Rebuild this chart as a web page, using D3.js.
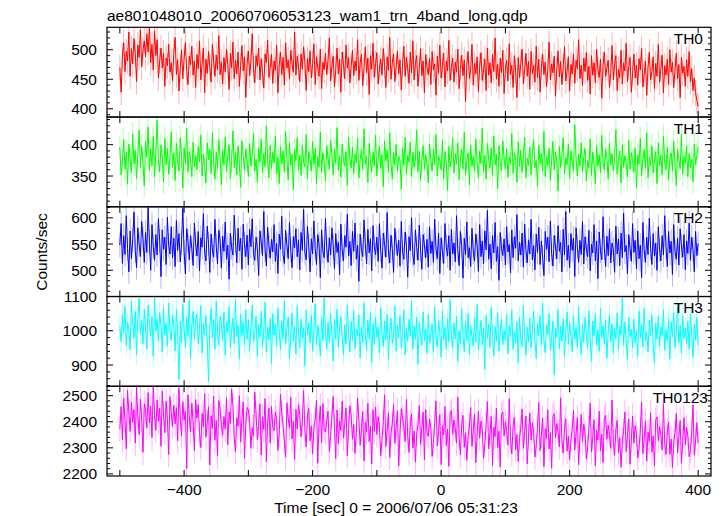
<!DOCTYPE html>
<html><head><meta charset="utf-8">
<script src="https://cdn.jsdelivr.net/npm/d3@7"></script>
<style>
html,body{margin:0;padding:0;background:#fff;}
svg text{font-family:"Liberation Sans",Arial,Helvetica,sans-serif;fill:#000;}
</style></head>
<body><svg id="c" width="723" height="516"></svg>
<script>
const title = "ae801048010_20060706053123_wam1_trn_4band_long.qdp";
const xLabel = "Time [sec] 0 = 2006/07/06 05:31:23";
const yLabel = "Counts/sec";
const tStart = -500, binSize = 2;
const seriesNames = ["TH0","TH1","TH2","TH3","TH0123"];
const seriesColors = ["#ff0000","#00ff00","#0000ff","#00ffff","#ff00ff"];
const seriesErrors = [22, 19, 23, 31, 49];
const yDomains = [[386,538],[301,444],[450,621],[838,1100],[2192,2536]];
const yMajorTicks = [[400,450,500],[350,400],[500,550,600],[900,1000,1100],[2200,2300,2400,2500]];
const yMinorSteps = [10,10,10,20,20];
const xDomain = [-520,420];
const xTicks = [-400,-200,0,200,400];
const xMinorTicks = [-500,-400,-300,-200,-100,0,100,200,300,400];

const th0 = [470,428,489,512,463,497,481,530,455,502,476,519,493,446,508,487,534,471,499,515,
488,527,496,541,478,509,466,532,490,517,452,481,503,469,494,438,486,473,509,462,
478,447,495,521,458,483,430,470,499,451,486,512,463,441,489,474,506,457,481,436,
492,468,515,449,476,503,427,484,460,497,471,445,509,480,455,491,466,524,458,479,
442,487,462,501,475,433,494,469,513,451,482,459,496,438,473,507,464,488,419,476,
498,456,481,527,467,444,490,472,503,449,485,461,435,493,478,516,453,470,492,443,
481,465,508,427,474,496,458,487,440,512,469,483,451,499,476,462,530,457,489,471,
446,493,467,505,478,431,485,463,498,452,476,510,441,488,470,455,501,434,479,466,
494,458,482,520,447,473,489,437,466,503,459,484,428,496,475,451,508,469,487,444,
472,499,456,481,464,517,448,478,492,439,470,505,461,486,424,490,467,511,453,477,
495,442,469,484,457,502,473,436,488,465,521,450,479,493,446,471,498,459,483,432,
474,506,455,487,468,443,496,461,515,449,478,490,438,467,502,456,481,427,492,470,
458,485,441,497,466,476,423,489,460,508,452,473,494,437,481,464,516,448,470,486,
445,479,462,501,434,468,491,456,483,412,474,497,451,465,509,440,477,459,488,429,
472,495,448,466,484,431,503,457,478,444,492,463,520,450,475,438,486,461,499,426,
469,482,447,510,458,474,436,490,464,419,487,453,476,501,442,467,494,455,480,433,
497,460,473,445,506,452,484,428,471,492,458,479,437,465,513,449,476,461,489,421,
466,498,454,480,441,471,505,447,463,488,430,475,459,493,443,482,468,517,451,474,
439,486,463,495,448,472,425,490,457,478,444,501,466,453,484,418,474,496,455,469,
482,436,461,507,449,476,490,431,467,453,499,442,478,464,511,446,471,487,428,460,
493,452,474,440,485,466,502,437,458,481,423,470,496,449,463,488,434,477,455,509,
445,468,491,427,473,457,484,441,500,462,479,436,466,494,451,475,419,487,460,472,
438,483,455,497,446,468,431,452,427,414,404];

const th1 = [396,352,374,408,361,389,337,401,378,355,417,369,391,346,384,423,363,398,371,334,
405,380,428,359,393,366,413,348,386,439,372,357,399,381,341,410,368,394,353,379,
420,364,387,343,402,375,358,411,383,331,395,370,426,356,389,377,349,404,365,382,
360,397,373,415,350,385,367,339,403,376,392,354,419,371,345,388,362,408,379,336,
391,368,412,357,383,400,346,374,422,363,387,352,398,370,332,406,381,359,393,375,
349,402,366,384,418,358,377,341,395,372,409,355,386,365,430,378,347,399,362,388,
371,414,353,380,338,397,369,390,357,421,376,344,403,367,385,328,392,374,411,360,
383,351,399,372,365,416,346,389,377,358,405,368,394,337,381,364,420,356,387,373,
342,398,379,361,407,384,352,393,370,427,359,382,348,401,375,366,389,335,412,378,
363,396,354,385,371,410,347,376,392,360,425,369,381,340,402,373,357,388,366,415,
350,379,397,362,384,333,406,374,391,356,419,370,345,387,368,400,358,381,376,329,
395,367,412,353,383,372,404,349,388,364,378,423,357,390,343,375,398,361,384,370,
339,401,376,358,393,368,416,350,382,374,360,407,346,389,371,327,397,364,380,411,
355,386,369,403,344,378,392,361,420,352,375,387,336,399,366,381,358,409,373,347,
390,370,426,357,383,345,402,376,363,395,351,414,368,385,330,398,372,359,406,377,
361,393,348,380,369,418,354,387,374,340,404,365,391,356,382,412,347,378,367,396,
352,384,408,363,375,334,399,370,386,358,421,349,381,367,394,343,376,405,360,388,
373,326,397,364,383,411,354,379,368,401,346,390,372,359,432,377,350,385,366,403,
357,381,394,342,375,363,409,351,388,370,337,398,366,384,355,415,372,360,393,378,
345,402,368,386,358,379,424,353,374,390,339,400,364,382,371,348,407,361,387,375,
356,395,331,384,369,410,350,377,392,362,419,347,380,366,398,355,374,389,338,403,
367,383,352,414,371,360,396,344,379,387,358,405,369,335,392,376,362,417,353,381,
370,398,349,386,363,377,341,401,368,384,396];

const th2 = [548,589,513,566,530,604,541,497,575,522,558,611,537,505,581,549,526,593,560,515,
572,534,620,553,500,587,545,519,568,529,598,556,488,577,540,563,511,601,547,531,
583,524,561,507,595,538,570,516,552,618,535,493,579,557,520,566,542,509,590,550,
527,574,499,562,544,608,533,518,584,551,496,569,539,525,597,546,512,576,558,504,
565,536,592,521,548,483,571,543,529,605,555,514,580,537,561,502,588,549,526,567,
510,578,545,598,532,519,563,541,490,575,554,528,612,539,508,582,547,523,559,535,
587,517,551,494,569,540,603,530,513,576,548,522,591,537,505,564,543,579,526,558,
501,572,538,616,533,520,584,546,497,560,531,594,542,511,568,550,486,577,536,524,
599,541,515,562,529,581,547,503,570,534,553,492,588,539,518,566,544,607,527,555,
509,574,536,590,521,548,479,569,540,526,596,551,512,578,533,560,499,585,545,530,
563,517,589,538,504,571,549,525,610,535,514,567,541,496,580,552,528,557,508,593,
534,521,573,546,487,564,537,600,529,511,577,543,519,586,539,502,568,548,524,559,
506,583,532,555,515,597,540,522,571,494,562,536,513,589,545,527,566,500,578,531,
552,516,604,538,509,574,547,485,561,530,592,524,543,507,580,535,518,569,548,498,
587,526,556,512,575,539,614,521,550,503,566,533,591,517,545,481,572,541,528,560,
510,583,535,549,495,577,524,564,542,606,518,553,529,571,506,588,537,514,558,531,
597,520,547,501,569,534,582,511,556,525,490,574,540,563,516,594,532,508,566,544,
522,585,536,553,497,578,529,612,519,548,505,570,538,561,488,581,545,515,557,530,
593,512,564,541,526,576,499,550,533,587,518,556,484,573,537,520,602,543,507,565,
528,579,514,552,539,496,584,531,560,509,571,524,609,535,547,493,568,541,517,589,
534,557,503,575,522,548,486,591,538,515,563,530,599,542,511,570,527,552,500,583,
539,518,566,529,604,544,507,574,533,555,492,587,536,521,561,510,579,546,525,568,
501,556,532,590,519,563,540,497,574,528,551];

const th3 = [1012,968,1047,993,1071,957,1026,1003,944,1085,1018,979,1056,931,1038,1094,990,1030,962,1062,
1008,947,1075,1021,984,1042,926,1097,999,1035,970,1053,1015,938,1068,987,1024,955,1081,1001,
973,1046,1017,941,1063,992,858,1029,965,1078,1004,951,1039,983,1090,920,1014,1057,976,1031,
1049,961,1006,1073,935,1022,988,1044,967,852,1011,1066,979,1033,946,1086,997,958,1041,1019,
972,1054,929,1027,995,1069,950,1003,1037,963,1092,982,1015,917,1048,986,1025,959,1061,975,
1032,942,1008,1074,968,990,1043,925,1019,981,1057,953,996,1083,937,1011,974,1036,904,1050,
987,1020,956,1066,999,944,1029,977,1088,961,1005,1040,918,985,1052,970,1013,933,1071,993,
951,1034,979,1009,898,1060,988,1023,965,1045,940,1002,1079,958,1016,984,927,1038,971,1095,
1000,946,1025,967,1051,989,912,1035,976,1063,952,1007,1042,983,930,1018,961,1075,994,938,
1027,972,1059,948,1004,985,1046,921,1013,966,1082,990,943,1031,977,1054,908,1021,960,1039,
981,1011,935,1067,992,955,1028,973,1049,916,1002,1036,964,987,1072,940,1017,979,1044,951,
996,1061,929,1008,969,1033,985,1087,947,1014,975,1040,902,1025,988,958,1055,971,1006,934,
1047,963,990,1019,937,1069,980,953,1030,996,923,1058,974,1010,945,1035,968,1091,985,949,
1023,976,1042,911,1001,962,1064,987,939,1027,970,1051,930,1015,982,957,1038,966,1076,944,
994,1031,959,1009,887,1045,978,1020,951,1068,984,927,1012,969,1053,941,997,1034,960,1002,
972,1048,933,1016,983,1061,946,999,965,1026,907,1040,975,954,1073,988,929,1011,967,1037,
950,1004,1057,973,919,1022,986,1044,958,1081,969,936,1017,991,1050,942,978,1029,872,1008,
981,1062,947,1013,970,1035,925,998,1055,961,1025,984,939,1043,976,1009,952,1070,988,931,
1019,966,1039,993,948,1058,974,911,1028,985,1049,957,1003,940,1066,979,1014,962,1032,920,
995,1046,968,1021,934,1007,977,1052,945,1012,989,1097,958,1026,971,915,1040,983,1005,949,
1034,964,1000,926,1057,980,1018,953,1065,972,996,938,1030,985,1047,960,906,1023,976,1042,
955,1011,987,1061,943,1003,969,1036,917,1025,982,1053,950,998,1071,965,1015,935,1044,978,
1007,961,1029,946,1050,988,922,1019,973,1038,957];

const th0123 = [2372,2458,2331,2490,2405,2296,2521,2437,2363,2474,2398,2446,2318,2533,2419,2351,2487,2410,2283,2469,
2443,2376,2512,2395,2460,2339,2538,2425,2367,2484,2402,2451,2306,2517,2430,2358,2479,2413,2274,2496,
2435,2381,2463,2392,2454,2327,2529,2418,2346,2477,2406,2440,2221,2503,2422,2361,2471,2399,2289,2485,
2414,2466,2355,2301,2432,2380,2508,2341,2397,2457,2234,2423,2374,2498,2329,2405,2268,2481,2449,2386,
2349,2420,2371,2492,2312,2438,2393,2525,2462,2337,2285,2416,2383,2500,2322,2408,2476,2260,2390,2455,
2445,2402,2298,2377,2344,2514,2427,2331,2385,2468,2272,2419,2370,2489,2247,2396,2452,2318,2459,2379,
2366,2437,2411,2290,2353,2506,2431,2388,2325,2264,2473,2412,2378,2494,2334,2401,2256,2448,2372,2465,
2428,2342,2399,2519,2369,2303,2422,2451,2327,2384,2277,2375,2407,2482,2241,2392,2460,2320,2470,2368,
2361,2404,2440,2286,2347,2417,2497,2381,2259,2445,2316,2403,2367,2479,2338,2389,2453,2269,2374,2461,
2425,2333,2390,2279,2358,2491,2409,2310,2373,2439,2250,2397,2360,2471,2324,2384,2238,2446,2363,2456,
2351,2419,2386,2270,2329,2400,2503,2305,2369,2434,2263,2357,2392,2466,2317,2380,2442,2231,2359,2450,
2414,2381,2325,2486,2348,2282,2396,2430,2299,2365,2245,2354,2388,2462,2313,2376,2437,2254,2447,2356,
2344,2410,2377,2267,2321,2393,2480,2307,2362,2427,2236,2385,2350,2458,2309,2372,2229,2432,2443,2352,
2407,2374,2318,2495,2340,2273,2389,2424,2302,2358,2252,2346,2382,2455,2306,2368,2429,2243,2349,2440,
2337,2403,2370,2261,2314,2386,2477,2296,2355,2420,2233,2379,2343,2452,2301,2365,2226,2426,2437,2345,
2400,2367,2311,2488,2334,2276,2383,2417,2293,2351,2248,2339,2376,2449,2298,2361,2422,2239,2342,2434,
2330,2396,2363,2265,2307,2380,2474,2290,2348,2414,2228,2373,2336,2446,2295,2358,2222,2419,2431,2339,
2393,2360,2304,2492,2327,2280,2377,2411,2287,2345,2255,2333,2370,2443,2292,2355,2416,2235,2336,2428,
2324,2390,2357,2258,2301,2374,2471,2284,2342,2408,2231,2367,2330,2440,2289,2352,2244,2413,2425,2333,
2387,2354,2298,2483,2321,2271,2371,2405,2281,2339,2226,2327,2364,2437,2286,2349,2410,2237,2330,2422,
2318,2384,2351,2262,2295,2368,2476,2278,2336,2402,2249,2361,2324,2434,2283,2346,2230,2407,2419,2327,
2381,2348,2292,2469,2315,2274,2365,2399,2275,2333,2224,2321,2358,2431,2280,2343,2404,2241,2324,2416,
2312,2378,2345,2266,2289,2362,2465,2272,2330,2396,2318];

const seriesValues = [th0, th1, th2, th3, th0123];

const svg = d3.select("#c");
const L = 107, R = 711, T = 27.3, B = 476;
const nP = seriesNames.length;
const pH = (B - T) / nP;
const x = d3.scaleLinear().domain(xDomain).range([L, R]);
const fmt = d => (d < 0 ? "\u2212" + Math.abs(d) : String(d));
const FS = 15.5;

svg.append("text").attr("x", L).attr("y", 20.5).attr("font-size", FS).text(title);

seriesNames.forEach((name, p) => {
  const top = T + p * pH, bot = top + pH;
  const y = d3.scaleLinear().domain(yDomains[p]).range([bot, top]);
  const vals = seriesValues[p];
  const pts = vals.map((v, i) => ({t: tStart + i * binSize, v}));
  const clipId = "clip" + p;
  svg.append("clipPath").attr("id", clipId).append("rect")
    .attr("x", L).attr("y", top).attr("width", R - L).attr("height", pH);
  const g = svg.append("g").attr("clip-path", `url(#${clipId})`);
  const err = seriesErrors[p];
  g.selectAll("line.err").data(pts).join("line")
    .attr("x1", d => x(d.t)).attr("x2", d => x(d.t))
    .attr("y1", d => y(d.v - err)).attr("y2", d => y(d.v + err))
    .attr("stroke", seriesColors[p]).attr("stroke-opacity", 0.3).attr("stroke-width", 1);
  g.append("path").datum(pts)
    .attr("d", d3.line().x(d => x(d.t)).y(d => y(d.v)))
    .attr("fill", "none").attr("stroke", seriesColors[p]).attr("stroke-width", 1);

  svg.append("rect").attr("x", L).attr("y", top).attr("width", R - L).attr("height", pH)
    .attr("fill", "none").attr("stroke", "#000").attr("stroke-width", 1.2);

  const [y0, y1] = yDomains[p];
  const st = yMinorSteps[p];
  const minor = d3.range(Math.ceil(y0 / st) * st, y1 + 0.001, st);
  const major = yMajorTicks[p];
  const tg = svg.append("g").attr("stroke", "#000").attr("stroke-width", 1);
  minor.forEach(v => {
    const len = major.includes(v) ? 6 : 3;
    tg.append("line").attr("x1", L).attr("x2", L + len).attr("y1", y(v)).attr("y2", y(v));
    tg.append("line").attr("x1", R).attr("x2", R - len).attr("y1", y(v)).attr("y2", y(v));
  });
  major.forEach(v => {
    svg.append("text").attr("x", 97).attr("y", y(v)).attr("dy", "0.36em")
      .attr("text-anchor", "end").attr("font-size", FS).text(fmt(v));
  });
  xMinorTicks.forEach(t => {
    tg.append("line").attr("x1", x(t)).attr("x2", x(t)).attr("y1", top).attr("y2", top + 6);
    tg.append("line").attr("x1", x(t)).attr("x2", x(t)).attr("y1", bot).attr("y2", bot - 6);
  });
  svg.append("text").attr("x", name.length > 3 ? 708 : 703).attr("y", top + 16.5)
    .attr("text-anchor", "end").attr("font-size", FS).text(name);
});

xTicks.forEach(t => {
  svg.append("text").attr("x", x(t)).attr("y", 495).attr("text-anchor", "middle")
    .attr("font-size", FS).text(fmt(t));
});
svg.append("text").attr("x", 396).attr("y", 513).attr("text-anchor", "middle")
  .attr("font-size", FS).text(xLabel);
svg.append("text").attr("transform", "translate(47,252) rotate(-90)")
  .attr("text-anchor", "middle").attr("font-size", FS).text(yLabel);
</script></body></html>
